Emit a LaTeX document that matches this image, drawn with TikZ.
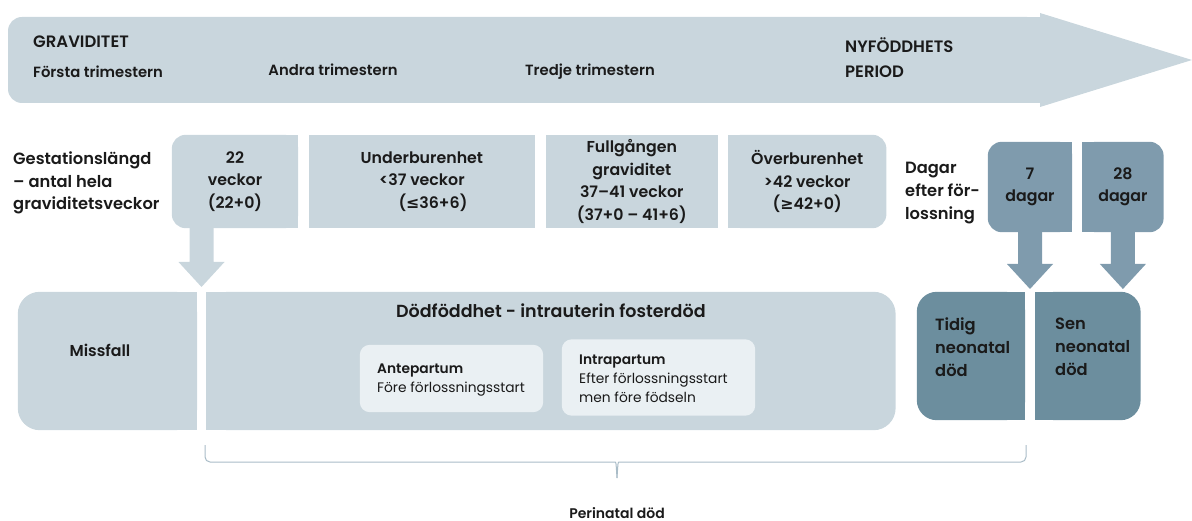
\documentclass[tikz,border=0pt]{standalone}
\usepackage{fontspec}
\setmainfont{Poppins}[BoldFont={Poppins SemiBold}]
\newfontfamily\symfont{DejaVu Sans}
\usetikzlibrary{positioning, calc, backgrounds}
\definecolor{band area}{HTML}{C9D6DD}
\definecolor{pale area}{HTML}{EAF0F3}
\definecolor{mid area}{HTML}{7F9BAD}
\definecolor{deep area}{HTML}{6C8E9E}
\definecolor{brace edge}{HTML}{A9BCC7}
\definecolor{ink}{HTML}{1A1A1A}
\newcommand{\atmost}{{\symfont ≤}}
\newcommand{\atleast}{{\symfont ≥}}
\newcommand{\roundleft}[3][14pt]{%
  \fill[#3, rounded corners=#1] (#2.north west) rectangle (#2.south east);
  \fill[#3] (#2.north) rectangle (#2.south east);}
\newcommand{\roundright}[3][14pt]{%
  \fill[#3, rounded corners=#1] (#2.north west) rectangle (#2.south east);
  \fill[#3] (#2.north west) rectangle (#2.south);}
\newcommand{\roundall}[3][10pt]{%
  \fill[#3, rounded corners=#1] (#2.north west) rectangle (#2.south east);}
\newcommand{\plainbox}[2]{\fill[#2] (#1.north west) rectangle (#1.south east);}
\newcommand{\blockarrow}[3]{%
  \fill[#1] let \p1=(#2), \p2=(#3) in
    (\x2-12pt,\y1) -- (\x2+12pt,\y1) -- (\x2+12pt,\y2+25pt) -- (\x2+23pt,\y2+25pt)
    -- (\x2,\y2) -- (\x2-23pt,\y2+25pt) -- (\x2-12pt,\y2+25pt) -- cycle;}
\tikzset{
  headtext/.style={font=\bfseries\fontsize{14.8}{25}\selectfont, text=ink, align=left, inner sep=0pt},
  capstext/.style={font=\bfseries\fontsize{16.5}{25}\selectfont, text=ink, align=left, inner sep=0pt},
  cell/.style={font=\bfseries\fontsize{15.8}{22.5}\selectfont, text=ink, align=center, inner sep=0pt},
  titletext/.style={font=\bfseries\fontsize{17.5}{22}\selectfont, text=ink, inner sep=0pt},
  sidetext/.style={font=\bfseries\fontsize{16.3}{22.7}\selectfont, text=ink, align=left, inner sep=0pt},
  subtext/.style={font=\fontsize{13.8}{19}\selectfont, text=ink, align=left, inner sep=0pt},
  foottext/.style={font=\bfseries\fontsize{14}{17}\selectfont, text=ink, inner sep=0pt},
  box/.style={inner sep=0pt},
  bracket/.style={draw=brace edge, line width=1pt}
}

\begin{document}
\begin{tikzpicture}[x=1pt, y=-1pt]
  \useasboundingbox (0,0) rectangle (1192,521);
  % time line
  \node[capstext, anchor=west] (pregnancy) at (33,42) {GRAVIDITET};
  \node[headtext, anchor=west] (first) at (33,72) {Första trimestern};
  \node[headtext] (second) at (333,70) {Andra trimestern};
  \node[headtext] (third) at (590,72) {Tredje trimestern};
  \node[capstext, anchor=west] (newborn) at (845,57.5) {NYFÖDDHETS\\PERIOD};
  % gestation
  \node[sidetext, anchor=west] (gestation) at (13,183) {Gestationslängd\\ – antal hela\\graviditetsveckor};
  \node[cell, minimum width=126pt, minimum height=93pt] (w22) at (235,181.5) {22\\veckor\\(22+0)};
  \node[cell, minimum width=225pt, minimum height=93pt, right=11pt of w22] (preterm) {Underburenhet\\<37 veckor\\\hspace{1.4em}(\atmost36+6)};
  \node[cell, minimum width=172pt, minimum height=93pt, right=11pt of preterm] (term) {Fullgången\\graviditet\\37–41 veckor\\(37+0 – 41+6)};
  \node[cell, minimum width=158pt, minimum height=93pt, right=10pt of term] (postterm) {Överburenhet\\>42 veckor\\(\atleast42+0)};
  % days
  \node[sidetext, anchor=west] (days) at (905,193) {Dagar\\efter för-\\lossning};
  \node[cell, minimum width=84pt, minimum height=90pt] (d7) at (1030,187) {7\\dagar};
  \node[cell, minimum width=81pt, minimum height=90pt, right=10pt of d7] (d28) {28\\dagar};
  % outcomes
  \node[box, minimum width=179pt, minimum height=138pt] (miss) at (107.5,361) {};
  \node[box, minimum width=689pt, minimum height=138pt, right=9pt of miss] (still) {};
  \node[cell] (miss text) at (100,350) {Missfall};
  \node[titletext, below=12pt of still.north] (still title) {Dödföddhet - intrauterin fosterdöd};
  \node[box, minimum width=183pt, minimum height=67pt] (ante) at (451.5,378.5) {};
  \node[box, minimum width=193pt, minimum height=76pt] (intra) at (658.5,377.5) {};
  \node[subtext, anchor=west] (ante text) at (377,380) {\textbf{Antepartum}\\Före förlossningsstart};
  \node[subtext, anchor=west] (intra text) at (579,379) {\textbf{Intrapartum}\\Efter förlossningsstart\\men före födseln};
  \node[box, minimum width=108pt, minimum height=128pt] (early) at (971,356) {};
  \node[box, minimum width=105pt, minimum height=128pt, right=10pt of early] (late) {};
  \node[sidetext, anchor=north west] (early text) at (935,318) {Tidig\\neonatal\\död};
  \node[sidetext, anchor=north west] (late text) at (1055,318) {Sen\\neonatal\\död};
  \coordinate (miss split) at (201.5,287);
  \coordinate (early split) at (1030,289);
  % perinatal
  \coordinate (brace left) at (205,445);
  \coordinate (brace right) at (1026,445);
  \coordinate (brace tip) at (617,478);
  \draw[bracket] (brace left) [rounded corners=5pt] |- ($(brace tip)+(-7,-16)$)
    [sharp corners] .. controls ($(brace tip)+(-1,-16)$) .. (brace tip);
  \draw[bracket] (brace right) [rounded corners=5pt] |- ($(brace tip)+(7,-16)$)
    [sharp corners] .. controls ($(brace tip)+(1,-16)$) .. (brace tip);
  \node[foottext, below=29pt of brace tip] (perinatal) {Perinatal död};

  \begin{scope}[on background layer]
    \fill[band area, rounded corners=14pt] (8,17) rectangle (1041,103);
    \fill[band area] (900,17) rectangle (1041,103);
    \fill[band area] (1040,13) -- (1192,60) -- (1040,107) -- cycle;
    \roundleft{w22}{band area}
    \plainbox{preterm}{band area}
    \plainbox{term}{band area}
    \roundright{postterm}{band area}
    \roundleft{d7}{mid area}
    \roundright{d28}{mid area}
    \roundleft[22pt]{miss}{band area}
    \roundright[22pt]{still}{band area}
    \roundall{ante}{pale area}
    \roundall{intra}{pale area}
    \roundleft[20pt]{early}{deep area}
    \roundright[20pt]{late}{deep area}
    \blockarrow{band area}{w22.south -| miss split}{miss split}
    \blockarrow{mid area}{d7.south}{early split}
    \blockarrow{mid area}{d28.south}{early split -| d28}
  \end{scope}
\end{tikzpicture}
\end{document}
